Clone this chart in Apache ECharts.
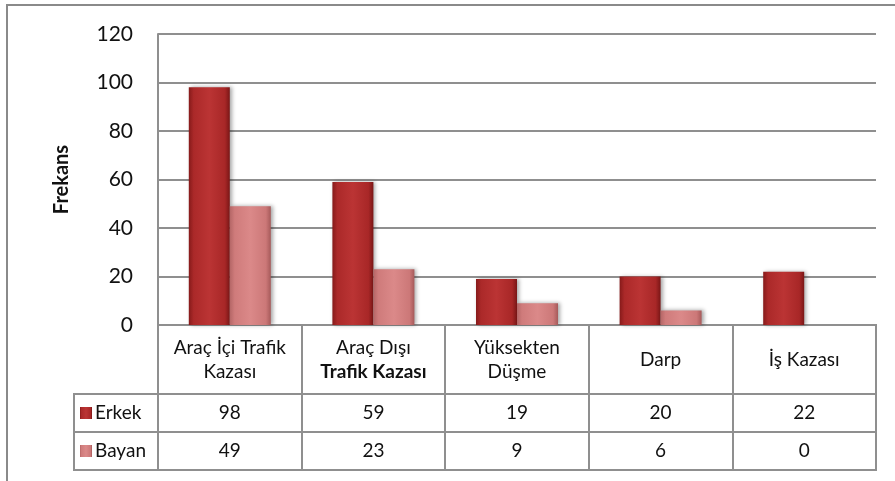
<!DOCTYPE html>
<html><head><meta charset="utf-8">
<script src="https://cdn.jsdelivr.net/npm/echarts@6/dist/echarts.min.js"></script>
<style>html,body{margin:0;padding:0;background:#fff}#c{width:895px;height:481px}</style>
</head><body><div id="c"></div>
<script>
// ---- data ----
const categories = ['Araç İçi Trafik\nKazası', 'Araç Dışı\nTrafik Kazası', 'Yüksekten\nDüşme', 'Darp', 'İş Kazası'];
const seriesNames = ['Erkek', 'Bayan'];
const erkek = [98, 59, 19, 20, 22];
const bayan = [49, 23, 9, 6, 0];
const yAxisTitle = 'Frekans';
const yMin = 0, yMax = 120, yInterval = 20;

// ---- styles ----
const FONT = 'Lato';
const GRAY = '#8f8f8f';
const TXT = '#111';
const PLOT_LEFT = 158, PLOT_RIGHT = 19;
const rows = [ {top: 325, h: 69}, {top: 394, h: 38}, {top: 432, h: 38} ];

function grad(stops) {
  return new echarts.graphic.LinearGradient(0, 0, 1, 0, stops.map((c, i) => ({offset: [0, 0.12, 0.5, 0.88, 1][i], color: c})));
}
const erkekColor = grad(['#861a1a', '#ab2929', '#bb3434', '#a82727', '#7a1616']);
const bayanColor = grad(['#b46666', '#cf7b7b', '#db8989', '#cc7878', '#a65a5a']);

const chart = echarts.init(document.getElementById('c'), null, {renderer: 'canvas'});

const grids = [{left: PLOT_LEFT, right: PLOT_RIGHT, top: 34, height: 291, outerBoundsMode: 'none'}];
rows.forEach(r => grids.push({left: PLOT_LEFT, right: PLOT_RIGHT, top: r.top, height: r.h, show: true,
  borderColor: GRAY, borderWidth: 2, backgroundColor: 'transparent', outerBoundsMode: 'none'}));

const tableFormatters = [
  (val, idx) => val.split('\n').map((line, j) => (idx === 1 && j === 1 ? '{b|' : '{n|') + line + '}').join('\n'),
  (val, idx) => '{n|' + erkek[idx] + '}',
  (val, idx) => '{n|' + bayan[idx] + '}'
];

const xAxes = [{gridIndex: 0, type: 'category', data: categories, axisLine: {show: false}, axisTick: {show: false}, axisLabel: {show: false}, splitLine: {show: false}}];
rows.forEach((r, i) => xAxes.push({
  gridIndex: i + 1, type: 'category', data: categories, position: 'top', boundaryGap: true,
  axisLine: {show: false}, axisTick: {show: false},
  splitLine: {show: true, lineStyle: {color: GRAY, width: 2}},
  axisLabel: {inside: true, interval: 0, margin: r.h / 2, verticalAlign: 'middle',
    formatter: tableFormatters[i],
    rich: {
      n: {fontFamily: FONT, fontSize: 19, lineHeight: 24, color: TXT},
      b: {fontFamily: FONT, fontSize: 19, lineHeight: 24, color: TXT, fontWeight: 'bold'}
    }}
}));

const yAxes = [{
  gridIndex: 0, type: 'value', min: yMin, max: yMax, interval: yInterval,
  name: yAxisTitle, nameLocation: 'middle', nameRotate: 90, nameGap: 86,
  nameTextStyle: {fontFamily: FONT, fontSize: 20, fontWeight: 'bold', color: TXT},
  axisLine: {show: true, lineStyle: {color: GRAY, width: 2}},
  axisTick: {show: false},
  axisLabel: {fontFamily: FONT, fontSize: 21, color: TXT, margin: 25},
  splitLine: {show: true, lineStyle: {color: GRAY, width: 2}}
}];
rows.forEach((r, i) => yAxes.push({gridIndex: i + 1, type: 'value', show: false}));

const shadow = {shadowColor: 'rgba(0,0,0,0.35)', shadowBlur: 4, shadowOffsetX: 2, shadowOffsetY: 0};

chart.setOption({
  animation: false,
  backgroundColor: '#fff',
  grid: grids,
  xAxis: xAxes,
  yAxis: yAxes,
  legend: {
    data: seriesNames, orient: 'vertical', left: 80, top: 402, padding: 0,
    itemWidth: 12, itemHeight: 12, itemGap: 16, itemGap2: 0, itemStyle: {borderWidth: 0, shadowBlur: 0},
    textStyle: {fontFamily: FONT, fontSize: 19, lineHeight: 22, color: TXT, padding: [0, 0, 0, -2]},
    icon: 'rect'
  },
  graphic: [
    {type: 'rect', silent: true, z: 100, shape: {x: 7, y: 5, width: 940, height: 540}, style: {fill: 'none', stroke: '#8a8a8a', lineWidth: 2}},
    {type: 'rect', silent: true, z: 100, shape: {x: 74, y: 394, width: 84, height: 38}, style: {fill: 'none', stroke: GRAY, lineWidth: 2}},
    {type: 'rect', silent: true, z: 100, shape: {x: 74, y: 432, width: 84, height: 38}, style: {fill: 'none', stroke: GRAY, lineWidth: 2}}
  ],
  series: [
    {name: seriesNames[0], type: 'bar', xAxisIndex: 0, yAxisIndex: 0, data: erkek, barWidth: 41, barGap: '0%',
      itemStyle: Object.assign({color: erkekColor}, shadow)},
    {name: seriesNames[1], type: 'bar', xAxisIndex: 0, yAxisIndex: 0, data: bayan, barWidth: 41, barGap: '0%',
      itemStyle: Object.assign({color: bayanColor}, shadow)}
  ]
});
</script></body></html>
